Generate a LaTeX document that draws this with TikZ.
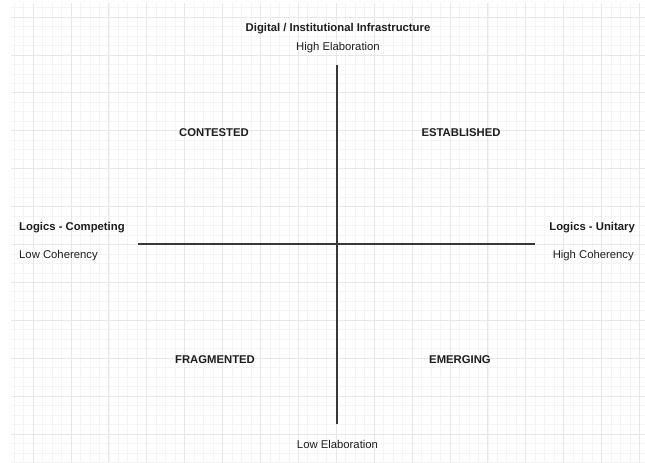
\documentclass[tikz,border=0pt]{standalone}
\usepackage{fontspec}
\setmainfont{Liberation Sans}
\definecolor{minorg}{HTML}{F4F4F4}
\definecolor{majorg}{HTML}{E8E8E8}
\definecolor{axisc}{HTML}{383838}
\definecolor{txt}{HTML}{1E1E1E}
\begin{document}
\begin{tikzpicture}[x=1pt,y=-1pt,
  lbl/.style={font=\fontsize{11.3}{13}\selectfont, text=txt, inner sep=0pt, yshift=-1.5pt},
  blbl/.style={lbl, font=\fontsize{11.3}{13}\selectfont\bfseries},
  axisline/.style={draw=axisc, line width=1.1pt}]
\fill[white] (0,0) rectangle (645,463);
\useasboundingbox (0,0) rectangle (645,463);
% minor grid
\foreach \i in {0,...,66} {
  \pgfmathsetmacro{\xx}{14.05+9.475*\i}
  \draw[minorg, line width=0.6pt] (\xx,3) -- (\xx,463);
}
\foreach \i in {0,...,48} {
  \pgfmathsetmacro{\yy}{7.5+9.475*\i}
  \draw[minorg, line width=0.6pt] (11,\yy) -- (645,\yy);
}
% major grid
\foreach \i in {0,...,16} {
  \pgfmathsetmacro{\xx}{33+37.9*\i}
  \draw[majorg, line width=0.8pt] (\xx,3) -- (\xx,463);
}
\foreach \i in {0,...,11} {
  \pgfmathsetmacro{\yy}{17+37.9*\i}
  \draw[majorg, line width=0.8pt] (11,\yy) -- (645,\yy);
}
% axes
\coordinate (vtop) at (337,65);
\coordinate (vbot) at (337,424);
\coordinate (hl) at (138,244);
\coordinate (hr) at (535,244);
\draw[axisline] (vtop) -- (vbot);
\draw[axisline] (hl) -- (hr);
% labels
\node[blbl] (title) at (338,27) {Digital / Institutional Infrastructure};
\node[lbl] (high) at (338,46) {High Elaboration};
\node[lbl] (low) at (337.5,443) {Low Elaboration};
\node[blbl, anchor=west] (comp) at (19,226) {Logics - Competing};
\node[lbl, anchor=west] (lowc) at (19,254) {Low Coherency};
\node[blbl, anchor=east] (unit) at (635,226) {Logics - Unitary};
\node[lbl, anchor=east] (highc) at (634,254) {High Coherency};
\node[blbl] (contested) at (214,131) {CONTESTED};
\node[blbl] (established) at (461,131) {ESTABLISHED};
\node[blbl] (fragmented) at (215,358) {FRAGMENTED};
\node[blbl] (emerging) at (460,358) {EMERGING};
\end{tikzpicture}
\end{document}
